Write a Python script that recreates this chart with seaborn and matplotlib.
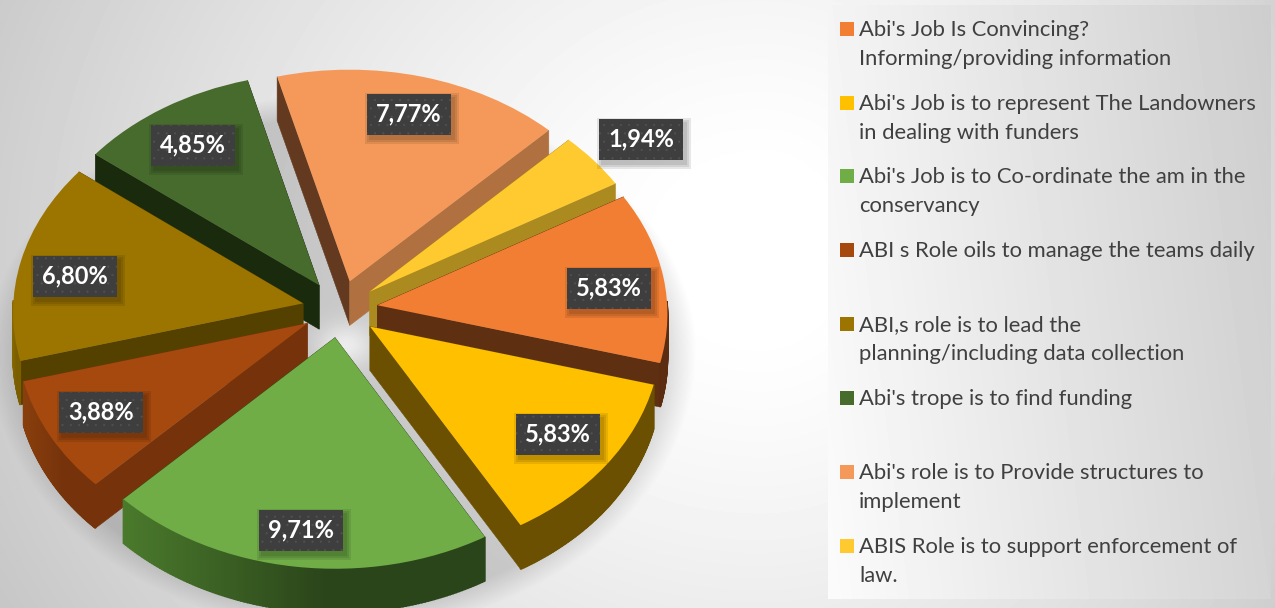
import numpy as np
import matplotlib
matplotlib.use("Agg")
import matplotlib.pyplot as plt
from matplotlib.colors import to_rgb
from matplotlib.patches import Rectangle
from matplotlib.transforms import Transform
import seaborn as sns

# Data
values = [5.83, 5.83, 9.71, 3.88, 6.80, 4.85, 7.77, 1.94]
legend_labels = [
    "Abi's Job Is Convincing?\nInforming/providing information",
    "Abi's Job is to represent The Landowners\nin dealing with funders",
    "Abi's Job is to Co-ordinate the am in the\nconservancy",
    "ABI s Role oils to manage the teams daily",
    "ABI,s role is to lead the\nplanning/including data collection",
    "Abi's trope is to find funding",
    "Abi's role is to Provide structures to\nimplement",
    "ABIS Role is to support enforcement of\nlaw.",
]
top_colors = ["#F17E32", "#FFC000", "#70AD47", "#A5490F", "#9C7500", "#476B2C", "#F49959", "#FFCA2F"]
low_walls = ["#5F2F12", "#6A5000", "#2B451A", "#76330B", "#544100", "#1A2A0D", "#B07040", "#AB8B20"]
high_walls = ["#5F2F12", "#6A5000", "#2B451A", "#76330B", "#544100", "#1A2A0D", "#633A20", "#AB8B20"]
arc_left = ["#5B2C10", "#6A5000", "#4A7A2C", "#8A3F0C", "#8A6A00", "#2C431A", "#B07040", "#AB8B20"]
arc_right = ["#5B2C10", "#6A5000", "#2B451A", "#76330B", "#7A5E00", "#2C431A", "#B07040", "#AB8B20"]

# layout, in pixels of the picture
label_xy = [(609, 288), (558, 434), (301, 530), (101, 412), (75, 276), (193, 145), (409, 114), (641, 139)]
legend_y = [29, 103, 176, 250, 324, 398, 472, 546]
draw_order = [6, 5, 7, 4, 0, 3, 1, 2]

W, H = 1275, 608
CX, CY, RX, RY, PERSP, DEPTH = 340, 309, 290, 221, 0.035, 44

sns.set_theme(style="white")
plt.rcParams["font.family"] = ["Lato", "DejaVu Sans"]
plt.rcParams["hatch.linewidth"] = 0.3
palette = sns.color_palette(top_colors)


def project(u, v):
    w = 1 + PERSP * np.asarray(v)
    return CX + RX * np.asarray(u) / w, CY - RY * np.asarray(v) / w


class PieView(Transform):
    input_dims = 2
    output_dims = 2

    def transform_non_affine(self, values):
        x, y = project(values[:, 0], values[:, 1])
        return np.column_stack([x, y])


fig = plt.figure(figsize=(W / 100, H / 100), dpi=100)
ax = fig.add_axes([0, 0, 1, 1])

# background glow and pie shadow
yy, xx = np.mgrid[0:H, 0:W]
dx = np.where(xx < 760, (xx - 760) / 800, (xx - 760) / 620)
d = np.clip(np.hypot(dx, (yy - 250) / 700), 0, 1.2)
bg = 1 - 0.2 * (np.clip(d - 0.1, 0, None) / 0.9) ** 1.3
ry_shadow = np.where(yy < 350, 245, 268)
r = np.hypot((xx - 342) / 337, (yy - 350) / ry_shadow)
bg = bg * (1 - 0.15 * np.clip((1.05 - r) / 0.1, 0, 1))
hot = np.exp(-(((xx - 345) / 28) ** 2 + ((yy - 345) / 22) ** 2))
bg = np.clip(bg + 0.14 * hot, 0, 1)
# legend panel
px = np.clip((xx - 828) / 442, 0, 1)
py = np.clip(yy / 600, 0, 1)
panel = 0.985 - 0.18 * np.clip(px * 0.85 + (1 - py) * 0.15, 0, 1)
inside = (xx >= 828) & (xx <= 1270) & (yy >= 5) & (yy <= 598)
bg = np.where(inside, panel, bg)
ax.imshow(bg, cmap="gray", vmin=0, vmax=1, extent=(0, W, H, 0), zorder=0, interpolation="bilinear")

# pie
wedges, _ = ax.pie(values, colors=palette, startangle=30, counterclock=False, radius=1,
                   explode=[0.13] * len(values), wedgeprops={"linewidth": 0})
view = PieView()
for rank, i in enumerate(draw_order):
    wd = wedges[i]
    base = 10 + 2 * rank
    cu, cv = wd.center
    t1, t2 = np.radians(wd.theta1), np.radians(wd.theta2)

    # the two flat walls
    for t, col in [(t2, high_walls[i]), (t1, low_walls[i])]:
        x0, y0 = project(cu, cv)
        x1, y1 = project(cu + np.cos(t), cv + np.sin(t))
        ax.fill([x0, x1, x1, x0], [y0, y1, y1 + DEPTH, y0 + DEPTH], color=col, lw=0.4, zorder=base)

    # outer wall, only the part that faces the viewer, in strips for the shading
    ts = np.linspace(t1, t2, 121)
    ts = ts[np.sin(ts) < 0.02]
    if len(ts) > 1:
        xs, ys = project(cu + np.cos(ts), cv + np.sin(ts))
        c0, c1 = np.array(to_rgb(arc_left[i])), np.array(to_rgb(arc_right[i]))
        span = max(xs.max() - xs.min(), 1)
        for k in range(len(ts) - 1):
            f = np.clip(((xs[k] - xs.min()) / span) * 1.8, 0, 1)
            ax.fill([xs[k], xs[k + 1], xs[k + 1], xs[k]],
                    [ys[k], ys[k + 1], ys[k + 1] + DEPTH, ys[k] + DEPTH],
                    color=c0 + (c1 - c0) * f, lw=1.2, zorder=base)

    wd.set_transform(view + ax.transData)
    wd.set_clip_on(False)
    wd.set_zorder(base + 1)

# value labels
for v, (lx, ly) in zip(values, label_xy):
    for g in (5, 3, 1):
        ax.add_patch(Rectangle((lx - 42 + 3 - g, ly - 20.5 + 4 - g), 84 + 2 * g, 41 + 2 * g,
                               facecolor="black", edgecolor="none", alpha=0.09, lw=0, zorder=49))
    ax.add_patch(Rectangle((lx - 42, ly - 20.5), 84, 41, facecolor="#3E3E3E", edgecolor="#525252",
                           hatch="..", lw=0, zorder=50))
    ax.text(lx, ly, f"{v:.2f}%".replace(".", ","), color="white", fontsize=17, fontweight="bold",
            ha="center", va="center", zorder=51)

# legend
for col, lab, ly in zip(palette, legend_labels, legend_y):
    ax.add_patch(Rectangle((840, ly - 7), 14, 14, facecolor=col, edgecolor="none", lw=0, zorder=50))
    for n, line in enumerate(lab.split("\n")):
        ax.text(859, ly + 7 + n * 29, line, color="#404040", fontsize=15.8, ha="left", va="baseline", zorder=51)

ax.set_aspect("auto")
ax.set_xlim(0, W)
ax.set_ylim(H, 0)
ax.axis("off")
fig.savefig("out.png", dpi=100)
